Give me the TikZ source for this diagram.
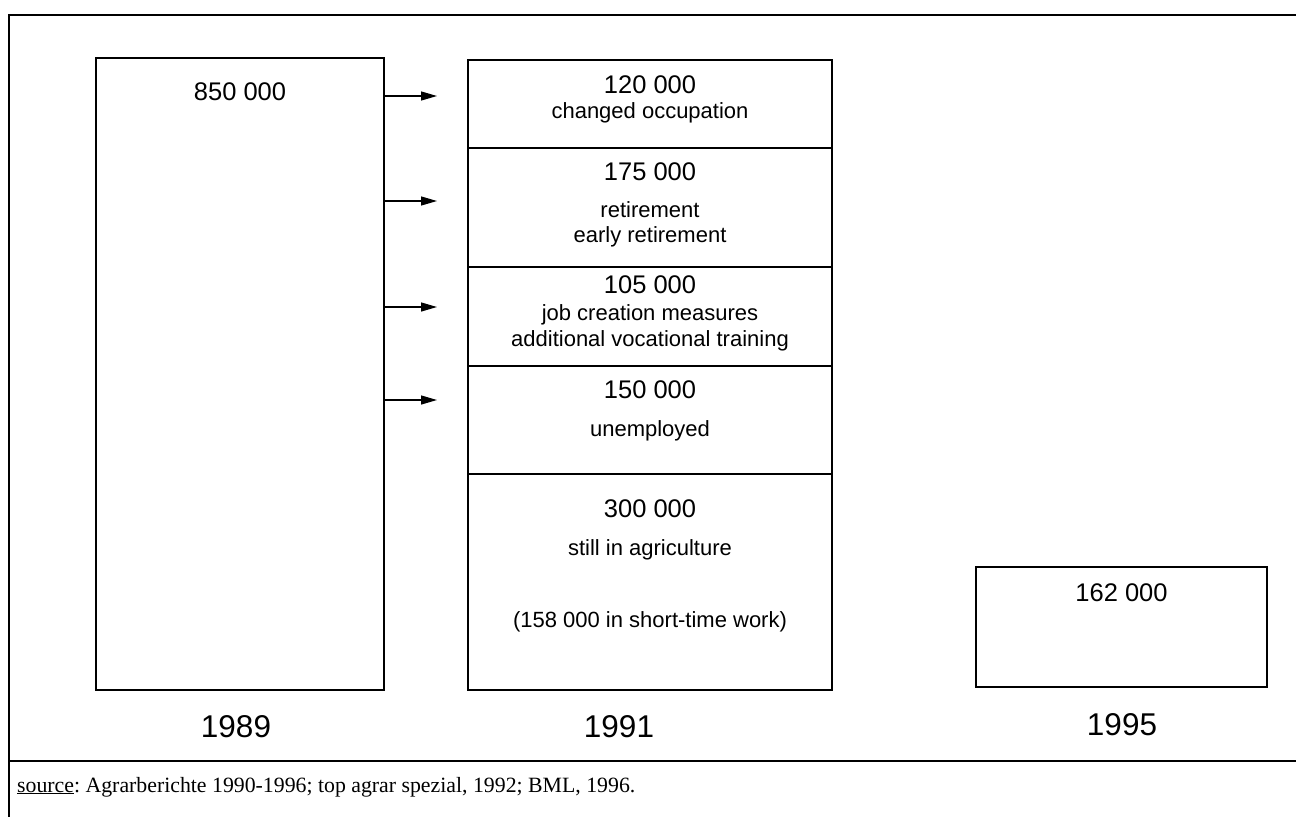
\documentclass[tikz,border=0pt]{standalone}
\usepackage{fontspec}
\setmainfont{Liberation Sans}
\newfontfamily\srcfont{Liberation Serif}
\usetikzlibrary{arrows.meta}
\frenchspacing
\begin{document}
\begin{tikzpicture}[x=1pt,y=-1pt,
  frame/.style={line width=1.8pt},
  box/.style={draw, line width=1.3pt, inner sep=0pt, rectangle},
  num/.style={anchor=base, inner sep=0pt, font=\fontsize{25.5}{30}\selectfont},
  lbl/.style={anchor=base, inner sep=0pt, font=\fontsize{22}{26}\selectfont},
  year/.style={anchor=base, inner sep=0pt, font=\fontsize{31.5}{36}\selectfont},
  arr/.style={line width=1.3pt, -{Triangle[length=16pt,width=9pt]}}
]
\useasboundingbox (0,0) rectangle (1296,817);
% outer frame
\draw[frame] (1296,15) -- (9,15) -- (9,817);
\draw[frame] (9,761) -- (1296,761);

% 1989
\node[box, minimum width=288pt, minimum height=632pt] (b89) at (240,374) {};
\node[num] (t89) at (240,100) {850 000};
\node[year] (y89) at (236,737) {1989};

% 1991 segments
\node[box, minimum width=364pt, minimum height=88pt]  (s1) at (650,104) {};
\node[box, minimum width=364pt, minimum height=119pt] (s2) at (650,207.5) {};
\node[box, minimum width=364pt, minimum height=99pt]  (s3) at (650,316.5) {};
\node[box, minimum width=364pt, minimum height=108pt] (s4) at (650,420) {};
\node[box, minimum width=364pt, minimum height=216pt] (s5) at (650,582) {};

\node[num] (n1) at (650,93) {120 000};
\node[lbl] (l1) at (650,118) {changed occupation};
\node[num] (n2) at (650,180) {175 000};
\node[lbl] (l2a) at (650,217) {retirement};
\node[lbl] (l2b) at (650,242) {early retirement};
\node[num] (n3) at (650,293) {105 000};
\node[lbl] (l3a) at (650,320) {job creation measures};
\node[lbl] (l3b) at (650,346) {additional vocational training};
\node[num] (n4) at (650,398) {150 000};
\node[lbl] (l4) at (650,436) {unemployed};
\node[num] (n5) at (650,517) {300 000};
\node[lbl] (l5a) at (650,555) {still in agriculture};
\node[lbl] (l5b) at (650,627) {(158 000 in short-time work)};
\node[year] (y91) at (619,737) {1991};

% 1995
\node[box, minimum width=291pt, minimum height=120pt] (b95) at (1121.5,627) {};
\node[num] (t95) at (1121.5,601) {162 000};
\node[year] (y95) at (1122,735) {1995};

% arrows
\coordinate (a1) at (437,96);
\coordinate (a2) at (437,201);
\coordinate (a3) at (437,307);
\coordinate (a4) at (437,400);
\draw[arr] (b89.east |- a1) -- (a1);
\draw[arr] (b89.east |- a2) -- (a2);
\draw[arr] (b89.east |- a3) -- (a3);
\draw[arr] (b89.east |- a4) -- (a4);

% source
\node[anchor=base west, inner sep=0pt, font=\srcfont\fontsize{21.8}{25}\selectfont] (src) at (17,792)
  {\underline{source}: Agrarberichte 1990-1996; top agrar spezial, 1992; BML, 1996.};
\end{tikzpicture}
\end{document}
